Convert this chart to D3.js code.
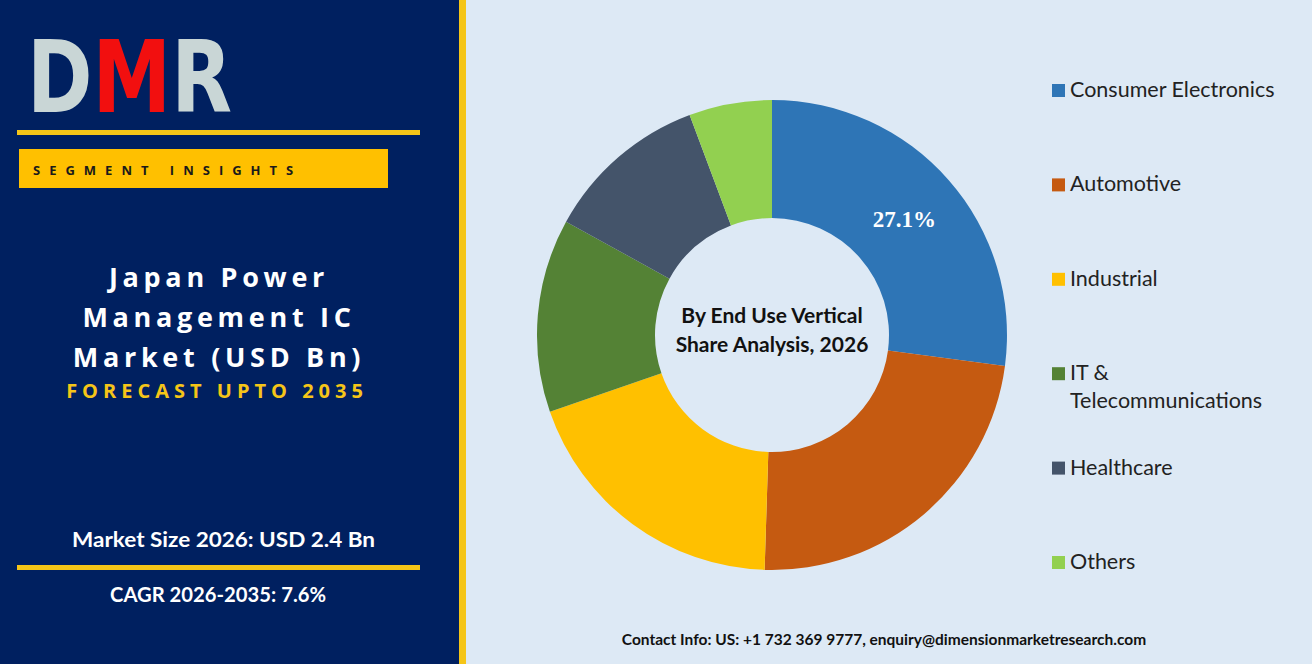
<!DOCTYPE html>
<html>
  <head>
    <meta charset="UTF-8">
    <title>Japan Power Management IC Market</title>
    <script src="https://cdn.jsdelivr.net/npm/d3@7"></script>
    <style>
      body { margin: 0; background: #dde9f5; }
      svg { display: block; }
    </style>
  </head>
  <body>
    <svg width="1312" height="664"></svg>
    <script>
      // data
      var categories = ["Consumer Electronics", "Automotive", "Industrial", "IT & Telecommunications", "Healthcare", "Others"];
      var legendLines = [["Consumer Electronics"], ["Automotive"], ["Industrial"], ["IT &", "Telecommunications"], ["Healthcare"], ["Others"]];
      var shares = [27.1, 23.4, 19.2, 13.3, 11.3, 5.7];
      var colors = ["#2e75b6", "#c55a11", "#ffc000", "#548235", "#44546a", "#92d050"];
      var shownLabels = ["27.1%"];
      var titleLines = ["Japan Power", "Management IC", "Market (USD Bn)"];

      var svg = d3.select("svg");

      // left panel
      svg.append("rect").attr("x", 0).attr("y", 0).attr("width", 459).attr("height", 664).attr("fill", "#002060");
      svg.append("rect").attr("x", 459).attr("y", 0).attr("width", 7).attr("height", 664).attr("fill", "#f5c518");

      // logo: one text, letters coloured with a hard-stop gradient
      var grad = svg.append("defs").append("linearGradient").attr("id", "logoFill")
        .attr("gradientUnits", "userSpaceOnUse").attr("x1", 27).attr("x2", 232).attr("y1", 0).attr("y2", 0);
      [[0, "#c9d6d6"], [0.31, "#c9d6d6"], [0.31, "#f20f0f"], [0.72, "#f20f0f"], [0.72, "#c9d6d6"], [1, "#c9d6d6"]]
        .forEach(function(s) { grad.append("stop").attr("offset", s[0]).attr("stop-color", s[1]); });
      svg.append("text").attr("x", 27).attr("y", 112)
        .attr("font-family", "DejaVu Sans").attr("font-weight", "bold").attr("font-size", 100)
        .attr("textLength", 205).attr("lengthAdjust", "spacingAndGlyphs")
        .attr("fill", "url(#logoFill)")
        .text("DMR");

      svg.append("rect").attr("x", 17).attr("y", 130).attr("width", 403).attr("height", 5).attr("fill", "#f5c518");
      svg.append("rect").attr("x", 19).attr("y", 149).attr("width", 369).attr("height", 39).attr("fill", "#ffc000");
      svg.append("text").attr("x", 33).attr("y", 175)
        .attr("font-family", "Open Sans").attr("font-weight", "bold").attr("font-size", 13)
        .attr("letter-spacing", 9).attr("fill", "#1a1a1a")
        .text("SEGMENT INSIGHTS");

      // title
      svg.append("g").selectAll("text").data(titleLines).enter().append("text")
        .attr("x", 219).attr("y", function(d, i) { return 287 + i * 40; })
        .attr("text-anchor", "middle")
        .attr("font-family", "Open Sans").attr("font-weight", "bold").attr("font-size", 27)
        .attr("letter-spacing", 4.7).attr("fill", "#ffffff")
        .text(function(d) { return d; });
      svg.append("text").attr("x", 217).attr("y", 398).attr("text-anchor", "middle")
        .attr("font-family", "Open Sans").attr("font-weight", "bold").attr("font-size", 20)
        .attr("letter-spacing", 5).attr("fill", "#f5c518")
        .text("FORECAST UPTO 2035");

      svg.append("text").attr("x", 72).attr("y", 547)
        .attr("font-family", "Lato").attr("font-weight", "bold").attr("font-size", 21).attr("fill", "#ffffff")
        .attr("textLength", 303).attr("lengthAdjust", "spacingAndGlyphs")
        .text("Market Size 2026: USD 2.4 Bn");
      svg.append("rect").attr("x", 17).attr("y", 565).attr("width", 403).attr("height", 5).attr("fill", "#f5c518");
      svg.append("text").attr("x", 110).attr("y", 602)
        .attr("font-family", "Lato").attr("font-weight", "bold").attr("font-size", 21).attr("fill", "#ffffff")
        .attr("textLength", 216).attr("lengthAdjust", "spacingAndGlyphs")
        .text("CAGR 2026-2035: 7.6%");

      // donut
      var cx = 772, cy = 335;
      var pie = d3.pie().sort(null).value(function(d) { return d; });
      var arc = d3.arc().innerRadius(117).outerRadius(235);
      var arcs = pie(shares);
      var g = svg.append("g").attr("transform", "translate(" + cx + "," + cy + ")");
      g.selectAll("path").data(arcs).enter().append("path")
        .attr("d", arc)
        .attr("fill", function(d, i) { return colors[i]; });
      g.selectAll("text.pct").data(arcs.slice(0, shownLabels.length)).enter().append("text")
        .attr("class", "pct")
        .attr("transform", function(d) { var c = arc.centroid(d); return "translate(" + c[0] + "," + (c[1] + 8) + ")"; })
        .attr("text-anchor", "middle")
        .attr("font-family", "Liberation Serif").attr("font-weight", "bold").attr("font-size", 23).attr("fill", "#ffffff")
        .text(function(d, i) { return shownLabels[i]; });
      g.append("text").attr("y", -12).attr("text-anchor", "middle")
        .attr("font-family", "Lato").attr("font-weight", "bold").attr("font-size", 21).attr("fill", "#111111")
        .text("By End Use Vertical");
      g.append("text").attr("y", 17).attr("text-anchor", "middle")
        .attr("font-family", "Lato").attr("font-weight", "bold").attr("font-size", 21).attr("fill", "#111111")
        .text("Share Analysis, 2026");

      // legend
      var legendY = d3.scalePoint().domain(categories).range([90, 562]);
      var lg = svg.append("g").selectAll("g").data(categories).enter().append("g")
        .attr("transform", function(d) { return "translate(1052," + legendY(d) + ")"; });
      lg.append("rect").attr("x", 0).attr("y", -6).attr("width", 13).attr("height", 13)
        .attr("fill", function(d, i) { return colors[i]; });
      lg.append("text").attr("x", 18).attr("y", 7)
        .attr("font-family", "Lato").attr("font-size", 21.5).attr("fill", "#222222")
        .selectAll("tspan").data(function(d, i) { return legendLines[i]; }).enter().append("tspan")
        .attr("x", 18).attr("dy", function(d, i) { return i === 0 ? 0 : 28; })
        .text(function(d) { return d; });

      svg.append("text").attr("x", 884).attr("y", 645).attr("text-anchor", "middle")
        .attr("font-family", "Lato").attr("font-weight", "bold").attr("font-size", 15.5).attr("fill", "#111111")
        .text("Contact Info: US: +1 732 369 9777, enquiry@dimensionmarketresearch.com");
    </script>
  </body>
</html>
